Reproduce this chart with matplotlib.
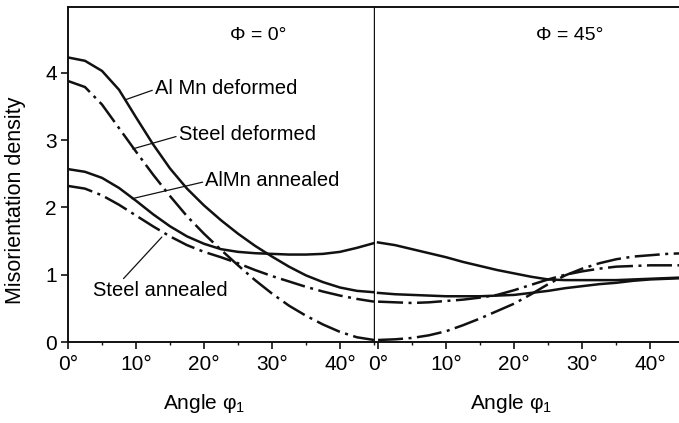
import numpy as np
import matplotlib
matplotlib.use("Agg")
import matplotlib.pyplot as plt
from matplotlib.ticker import MultipleLocator

plt.rcParams.update({
    "font.family": ["Liberation Sans", "DejaVu Sans"],
    "mathtext.fontset": "custom",
    "mathtext.rm": "Liberation Sans",
    "mathtext.it": "Liberation Sans",
    "font.size": 15,
    "axes.linewidth": 1.4,
})
INK = "#111111"

# ---------------------------------------------------------------
# DATA
# ---------------------------------------------------------------
phi1 = [0, 2.5, 5, 7.5, 10, 12.5, 15, 17.5, 20, 22.5,
        25, 27.5, 30, 32.5, 35, 37.5, 40, 42.5, 45]

# Phi = 0 deg panel
almn_def_0 = [4.23, 4.18, 4.03, 3.75, 3.34, 2.94, 2.58, 2.28, 2.03, 1.81,
              1.61, 1.43, 1.27, 1.12, 0.99, 0.89, 0.81, 0.76, 0.74]
steel_def_0 = [3.88, 3.79, 3.53, 3.18, 2.83, 2.49, 2.17, 1.87, 1.61, 1.37,
               1.14, 0.92, 0.72, 0.54, 0.39, 0.26, 0.15, 0.07, 0.03]
almn_ann_0 = [2.57, 2.53, 2.44, 2.29, 2.10, 1.90, 1.72, 1.57, 1.46, 1.38,
              1.34, 1.32, 1.31, 1.30, 1.30, 1.31, 1.34, 1.40, 1.47]
steel_ann_0 = [2.32, 2.28, 2.18, 2.04, 1.88, 1.72, 1.57, 1.44, 1.34, 1.26,
               1.17, 1.07, 0.98, 0.90, 0.82, 0.75, 0.69, 0.64, 0.60]

# Phi = 45 deg panel
almn_def_45 = [0.73, 0.71, 0.70, 0.69, 0.68, 0.68, 0.68, 0.69, 0.70, 0.73,
               0.76, 0.80, 0.83, 0.86, 0.88, 0.91, 0.93, 0.94, 0.95]
steel_def_45 = [0.03, 0.04, 0.06, 0.10, 0.16, 0.25, 0.35, 0.46, 0.57, 0.71,
                0.86, 0.99, 1.09, 1.17, 1.23, 1.27, 1.29, 1.31, 1.32]
almn_ann_45 = [1.48, 1.44, 1.38, 1.32, 1.26, 1.19, 1.13, 1.07, 1.02, 0.97,
               0.93, 0.92, 0.92, 0.92, 0.92, 0.93, 0.94, 0.95, 0.96]
steel_ann_45 = [0.60, 0.59, 0.58, 0.59, 0.61, 0.63, 0.66, 0.70, 0.77, 0.85,
                0.93, 1.00, 1.05, 1.09, 1.12, 1.13, 1.14, 1.14, 1.14]

xticks = [0, 10, 20, 30, 40]
xticklabels = ["0°", "10°", "20°", "30°", "40°"]
yticks = [0, 1, 2, 3, 4]

SOLID = "-"
DASHDOT = (0, (10, 2.2, 1.2, 2.2))
LW = 1.8
FS = 14.5

# ---------------------------------------------------------------
# FIGURE
# ---------------------------------------------------------------
fig = plt.figure(figsize=(6.79, 4.23), dpi=100)
ax1 = fig.add_axes([68 / 679, 81 / 423, 306 / 679, 335 / 423])
ax2 = fig.add_axes([375 / 679, 81 / 423, 306.5 / 679, 335 / 423])

ax1.plot(phi1, almn_def_0, color=INK, lw=LW, ls=SOLID)
ax1.plot(phi1, steel_def_0, color=INK, lw=LW, ls=DASHDOT)
ax1.plot(phi1, almn_ann_0, color=INK, lw=LW, ls=SOLID)
ax1.plot(phi1, steel_ann_0, color=INK, lw=LW, ls=DASHDOT)

ax2.plot(phi1, almn_def_45, color=INK, lw=LW, ls=SOLID)
ax2.plot(phi1, steel_def_45, color=INK, lw=LW, ls=DASHDOT)
ax2.plot(phi1, almn_ann_45, color=INK, lw=LW, ls=SOLID)
ax2.plot(phi1, steel_ann_45, color=INK, lw=LW, ls=DASHDOT)

for ax in (ax1, ax2):
    ax.set_ylim(0, 4.98)
    ax.set_xticks(xticks)
    ax.set_xticklabels(xticklabels)
    ax.xaxis.set_minor_locator(MultipleLocator(5))
    ax.tick_params(axis="x", which="major", direction="out", length=5,
                   width=1.2, pad=4, color=INK, labelsize=15)
    ax.tick_params(axis="x", which="minor", direction="out", length=2.5,
                   width=1.0, color=INK)
    for s in ax.spines.values():
        s.set_color(INK)
    ax.set_xlabel("Angle φ$_1$", fontsize=15)
    ax.xaxis.set_label_coords(20 / 45, -0.15)

ax1.set_xlim(0, 45)
ax1.set_yticks(yticks)
ax1.tick_params(axis="y", direction="out", length=5, width=1.2, pad=3,
                color=INK, labelsize=15)
ax1.spines["right"].set_linewidth(1.0)

ax2.set_xlim(-0.45, 44.6)
ax2.set_yticks([])
ax2.spines["left"].set_visible(False)
ax2.spines["right"].set_visible(False)

fig.text(16 / 679, 1 - 200 / 423, "Misorientation density", rotation=90,
         ha="center", va="center", fontsize=15.5)

ax1.text(27.9, 4.56, "Φ = 0°", ha="center", va="center", fontsize=14)
ax2.text(28.2, 4.56, "Φ = 45°", ha="center", va="center", fontsize=14)

# curve labels with leader lines
leader = dict(arrowstyle="-", color=INK, lw=0.9, shrinkA=0, shrinkB=0)
ax1.annotate("Al Mn deformed", xy=(8.4, 3.60), xytext=(12.8, 3.77),
             ha="left", va="center", fontsize=FS,
             arrowprops=dict(leader, relpos=(0, 0.45)))
ax1.annotate("Steel deformed", xy=(9.5, 2.87), xytext=(16.3, 3.08),
             ha="left", va="center", fontsize=FS,
             arrowprops=dict(leader, relpos=(0, 0.45)))
ax1.annotate("AlMn annealed", xy=(9.4, 2.13), xytext=(20.2, 2.40),
             ha="left", va="center", fontsize=FS,
             arrowprops=dict(leader, relpos=(0, 0.45)))
ax1.annotate("Steel annealed", xy=(13.8, 1.56), xytext=(3.7, 0.76),
             ha="left", va="center", fontsize=FS,
             arrowprops=dict(leader, relpos=(0.2, 0.95)))

fig.savefig("out.png", dpi=100)
